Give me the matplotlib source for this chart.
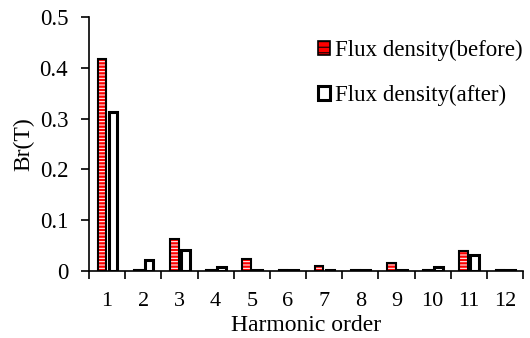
import matplotlib
matplotlib.use("Agg")
import matplotlib.pyplot as plt
import numpy as np
from matplotlib.patches import Patch

orders = list(range(1, 13))
before = [0.417, 0.002, 0.064, 0.002, 0.024, 0.003, 0.010, 0.003, 0.015, 0.003, 0.039, 0.003]
after = [0.312, 0.022, 0.042, 0.008, 0.003, 0.003, 0.003, 0.003, 0.003, 0.009, 0.031, 0.003]

plt.rcParams["font.family"] = ["Liberation Serif", "DejaVu Serif"]
plt.rcParams["hatch.linewidth"] = 0.75

fig = plt.figure(figsize=(5.3, 3.38), dpi=100)
ax = fig.add_axes([0.168, 0.198, 0.819, 0.752])

x = np.array(orders, dtype=float)
w = 0.24
# red bars with white stripes, then a black outline on top
ax.bar(x - 0.14, before, w, color="#ff0000", edgecolor="white", hatch="-----", linewidth=0)
ax.bar(x - 0.14, before, w, fill=False, edgecolor="black", linewidth=1.5)
ax.bar(x + 0.16, after, w, color="white", edgecolor="black", linewidth=2.2)

h1 = Patch(facecolor="#ff0000", edgecolor="black", hatch="---", linewidth=1.2)
h2 = Patch(facecolor="white", edgecolor="black", linewidth=2.2)
ax.legend([h1, h2], ["Flux density(before)", "Flux density(after)"],
          loc="upper right", bbox_to_anchor=(1.02, 0.945), frameon=False,
          fontsize=16.5, handlelength=0.55, handleheight=0.55, handletextpad=0.2,
          labelspacing=1.05, borderaxespad=0)

ax.set_xlim(0.5, 12.5)
ax.set_ylim(0, 0.5)
ax.set_yticks([0, 0.1, 0.2, 0.3, 0.4, 0.5])
ax.set_yticklabels(["0", "0.1", "0.2", "0.3", "0.4", "0.5"])
ax.set_xticks(x)
ax.set_xticklabels([str(o) for o in orders])
ax.set_xticks(np.arange(0.5, 13, 1.0), minor=True)
ax.tick_params(axis="x", which="major", length=0, pad=15, labelsize=16)
ax.tick_params(axis="x", which="minor", length=6, width=1.2, direction="out")
ax.tick_params(axis="y", length=6, width=1.2, direction="out", labelsize=16.5, pad=9)

for s in ["top", "right"]:
    ax.spines[s].set_visible(False)
for s in ["left", "bottom"]:
    ax.spines[s].set_linewidth(1.2)

ax.set_xlabel("Harmonic order", fontsize=17, labelpad=3)
ax.set_ylabel("Br(T)", fontsize=17, labelpad=4)

fig.savefig("out.png", dpi=100)
